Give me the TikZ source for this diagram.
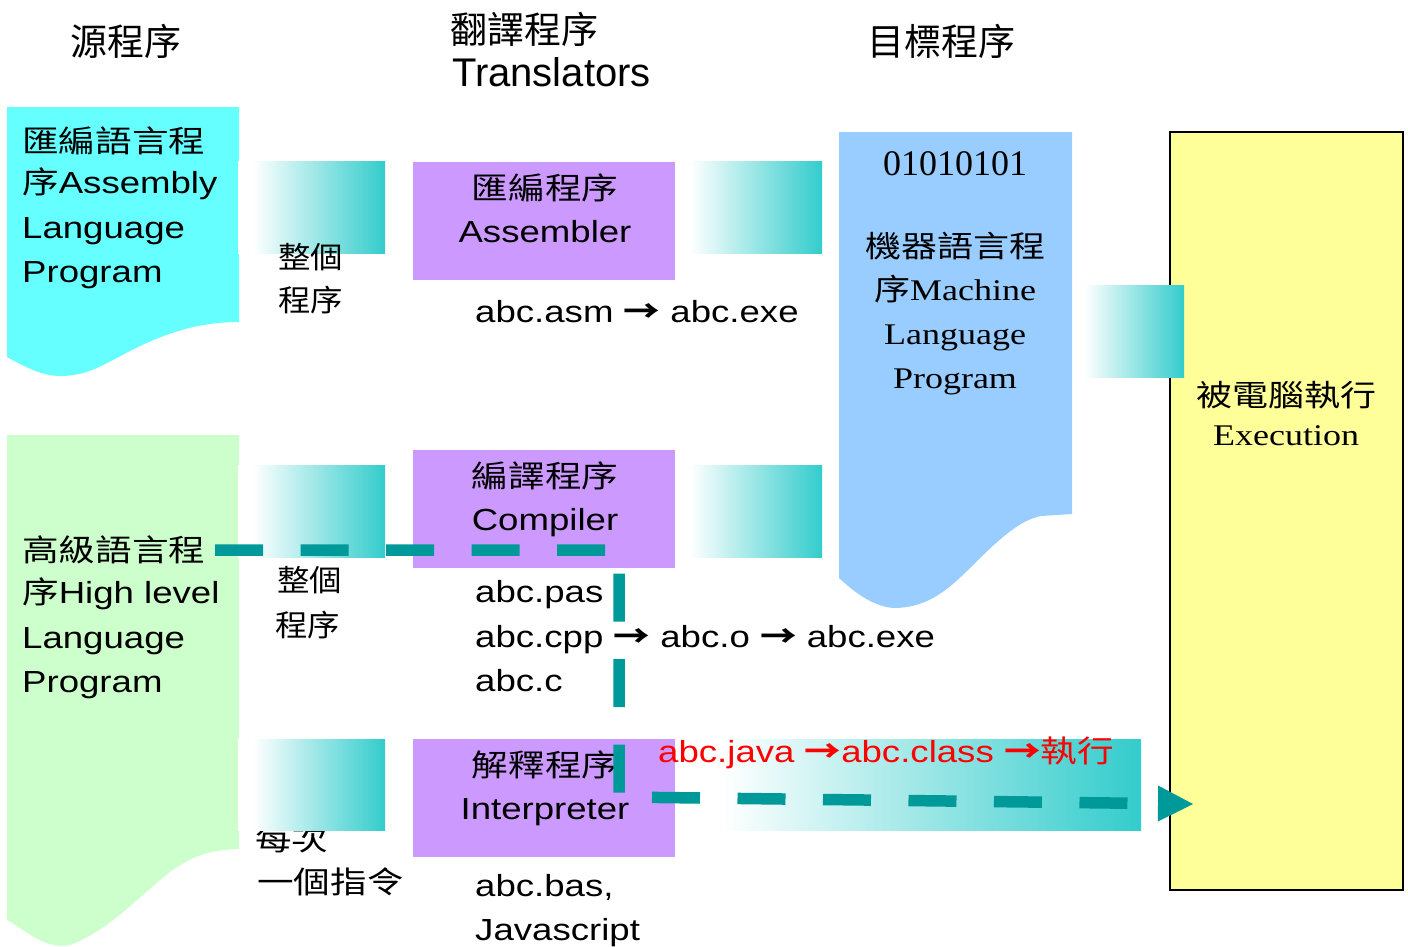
\documentclass[tikz,border=0pt]{standalone}
\usepackage{fontspec}
\setmainfont{Liberation Sans}[FakeStretch=1.2]
\newfontfamily\hdfont{Liberation Sans}
\newfontfamily\srfont{Liberation Serif}[FakeStretch=1.2]
\newfontfamily\binfont{Liberation Serif}
\newfontfamily\cjkfont{Noto Sans CJK TC}[FakeStretch=1.2]
\newfontfamily\cjknfont{Noto Sans CJK TC}[FakeStretch=1.08]
\newfontfamily\cjkhfont{Noto Sans CJK TC}
\usetikzlibrary{arrows.meta}
\newcommand{\C}[1]{{\cjkfont #1}}
\newcommand{\Ar}{{\cjkfont\bfseries →}}
\definecolor{cyanc}{HTML}{66FFFF}
\definecolor{greenc}{HTML}{CCFFCC}
\definecolor{purplec}{HTML}{CC99FF}
\definecolor{bluec}{HTML}{99CCFF}
\definecolor{yellowc}{HTML}{FFFF99}
\definecolor{gteal}{HTML}{33CCCC}
\definecolor{dteal}{HTML}{009999}
\definecolor{redc}{HTML}{FF0000}
\pgfdeclarehorizontalshading{fadeteal}{100bp}{color(0bp)=(white); color(30bp)=(white); color(75bp)=(gteal); color(100bp)=(gteal)}
\tikzset{
  hd/.style={inner sep=0pt, font=\cjkhfont\fontsize{37}{40}\selectfont},
  hdl/.style={inner sep=0pt, font=\hdfont\fontsize{40}{44}\selectfont},
  sans/.style={inner sep=0pt, font=\fontsize{30.5}{36}\selectfont},
  serif/.style={inner sep=0pt, font=\srfont\fontsize{30}{36}\selectfont},
  bin/.style={inner sep=0pt, font=\binfont\fontsize{36}{40}\selectfont},
  cjks/.style={inner sep=0pt, font=\cjknfont\fontsize{30}{36}\selectfont},
  grad/.style={shading=fadeteal},
  tbox/.style={fill=purplec},
  dashline/.style={draw=dteal, line width=11.5pt, dash pattern=on 48pt off 37.5pt,
    -{Triangle[length=35pt,width=36pt,line width=0pt]}}
}
\begin{document}
\begin{tikzpicture}[x=1pt,y=-1pt]
\useasboundingbox (0,0) rectangle (1408,946);
\clip (0,0) rectangle (1408,946);
% document shapes
\fill[cyanc] (7,107) -- (239,107) -- (239,322)
  .. controls (200,322) and (170,332) .. (140,346)
  .. controls (105,363) and (90,376) .. (60,376)
  .. controls (40,376) and (20,364) .. (7,357) -- cycle;
\fill[greenc] (7,435) -- (239,435) -- (239,849)
  .. controls (205,850) and (190,858) .. (170,872)
  .. controls (140,895) and (110,930) .. (70,945)
  .. controls (45,950) and (25,930) .. (7,920) -- cycle;
\fill[bluec] (839,132) -- (1072,132) -- (1072,514) -- (1041,516)
  .. controls (1020,520) and (1000,538) .. (970,568)
  .. controls (945,593) and (925,608) .. (893,608)
  .. controls (870,606) and (850,588) .. (839,578) -- cycle;
\filldraw[fill=yellowc, draw=black, line width=1.5pt] (1170,132) rectangle (1403,890);
% text hidden partly behind gradient
\node[sans, anchor=base west] (ev1) at (255,850) {\C{每次}};
% gradient blocks
\shade[grad] (238,161) rectangle (385,253);
\shade[grad] (675,161) rectangle (822,253);
\shade[grad] (238,465) rectangle (385,557);
\shade[grad] (675,465) rectangle (822,557);
\shade[grad] (238,739) rectangle (385,830);
\shade[grad] (675,739) rectangle (1141,830);
\shade[grad] (1073,285) rectangle (1184,377);
% translator boxes
\fill[tbox] (413,162) rectangle (675,280);
\fill[tbox] (413,450) rectangle (675,568);
\fill[tbox] (413,739) rectangle (675,857);
% headings
\node[hd, anchor=base] (hsrc) at (126,55) {源程序};
\node[hd, anchor=base west] (htr1) at (450,43) {翻譯程序};
\node[hdl, anchor=base west] (htr2) at (452,86) {Translators};
\node[hd, anchor=base] (htgt) at (941,55) {目標程序};
% assembly source
\node[sans, anchor=base west] (a1) at (22,152) {\C{匯編語言程}};
\node[sans, anchor=base west] (a2) at (22,193) {\C{序}Assembly};
\node[sans, anchor=base west] (a3) at (22,238) {Language};
\node[sans, anchor=base west] (a4) at (22,282) {Program};
\node[cjks, anchor=base west] (w1) at (278,268) {整個};
\node[cjks, anchor=base west] (w2) at (278,311) {程序};
% assembler
\node[sans, anchor=base] (asm1) at (545,199) {\C{匯編程序}};
\node[sans, anchor=base] (asm2) at (545,242) {Assembler};
\node[sans, anchor=base west] (asm3) at (475,322) {abc.asm \Ar{} abc.exe};
% machine language
\node[bin, anchor=base] (m0) at (955,175) {01010101};
\node[serif, anchor=base] (m1) at (955,257) {\C{機器語言程}};
\node[serif, anchor=base] (m2) at (955,300) {\C{序}Machine};
\node[serif, anchor=base] (m3) at (955,344) {Language};
\node[serif, anchor=base] (m4) at (955,388) {Program};
% execution
\node[serif, anchor=base] (e1) at (1286,406) {\C{被電腦執行}};
\node[serif, anchor=base] (e2) at (1286,445) {Execution};
% high level source
\node[sans, anchor=base west] (g1) at (22,561) {\C{高級語言程}};
\node[sans, anchor=base west] (g2) at (22,603) {\C{序}High level};
\node[sans, anchor=base west] (g3) at (22,648) {Language};
\node[sans, anchor=base west] (g4) at (22,692) {Program};
\node[cjks, anchor=base west] (w3) at (277,591) {整個};
\node[cjks, anchor=base west] (w4) at (275,636) {程序};
% compiler
\node[sans, anchor=base] (cmp1) at (545,487) {\C{編譯程序}};
\node[sans, anchor=base] (cmp2) at (545,530) {Compiler};
\node[sans, anchor=base west] (f1) at (475,602) {abc.pas};
\node[sans, anchor=base west] (f2) at (475,647) {abc.cpp \Ar{} abc.o \Ar{} abc.exe};
\node[sans, anchor=base west] (f3) at (475,691) {abc.c};
% interpreter
\node[sans, anchor=base] (int1) at (545,776) {\C{解釋程序}};
\node[sans, anchor=base] (int2) at (545,819) {Interpreter};
\node[sans, anchor=base west] (f4) at (475,896) {abc.bas,};
\node[sans, anchor=base west] (f5) at (475,940) {Javascript};
\node[sans, anchor=base west] (ev2) at (257,893) {\C{一個指令}};
% dashed path
\coordinate (d0) at (215,550);
\coordinate (d1) at (619,550);
\coordinate (d2) at (619,797);
\coordinate (d3) at (1193,804);
\draw[dashline] (d0) -- (d1) -- (d2) -- (d3);
\node[sans, anchor=base west, text=redc] (jv) at (658,762) {abc.java \Ar{}abc.class \Ar{}\C{執行}};
\end{tikzpicture}
\end{document}
